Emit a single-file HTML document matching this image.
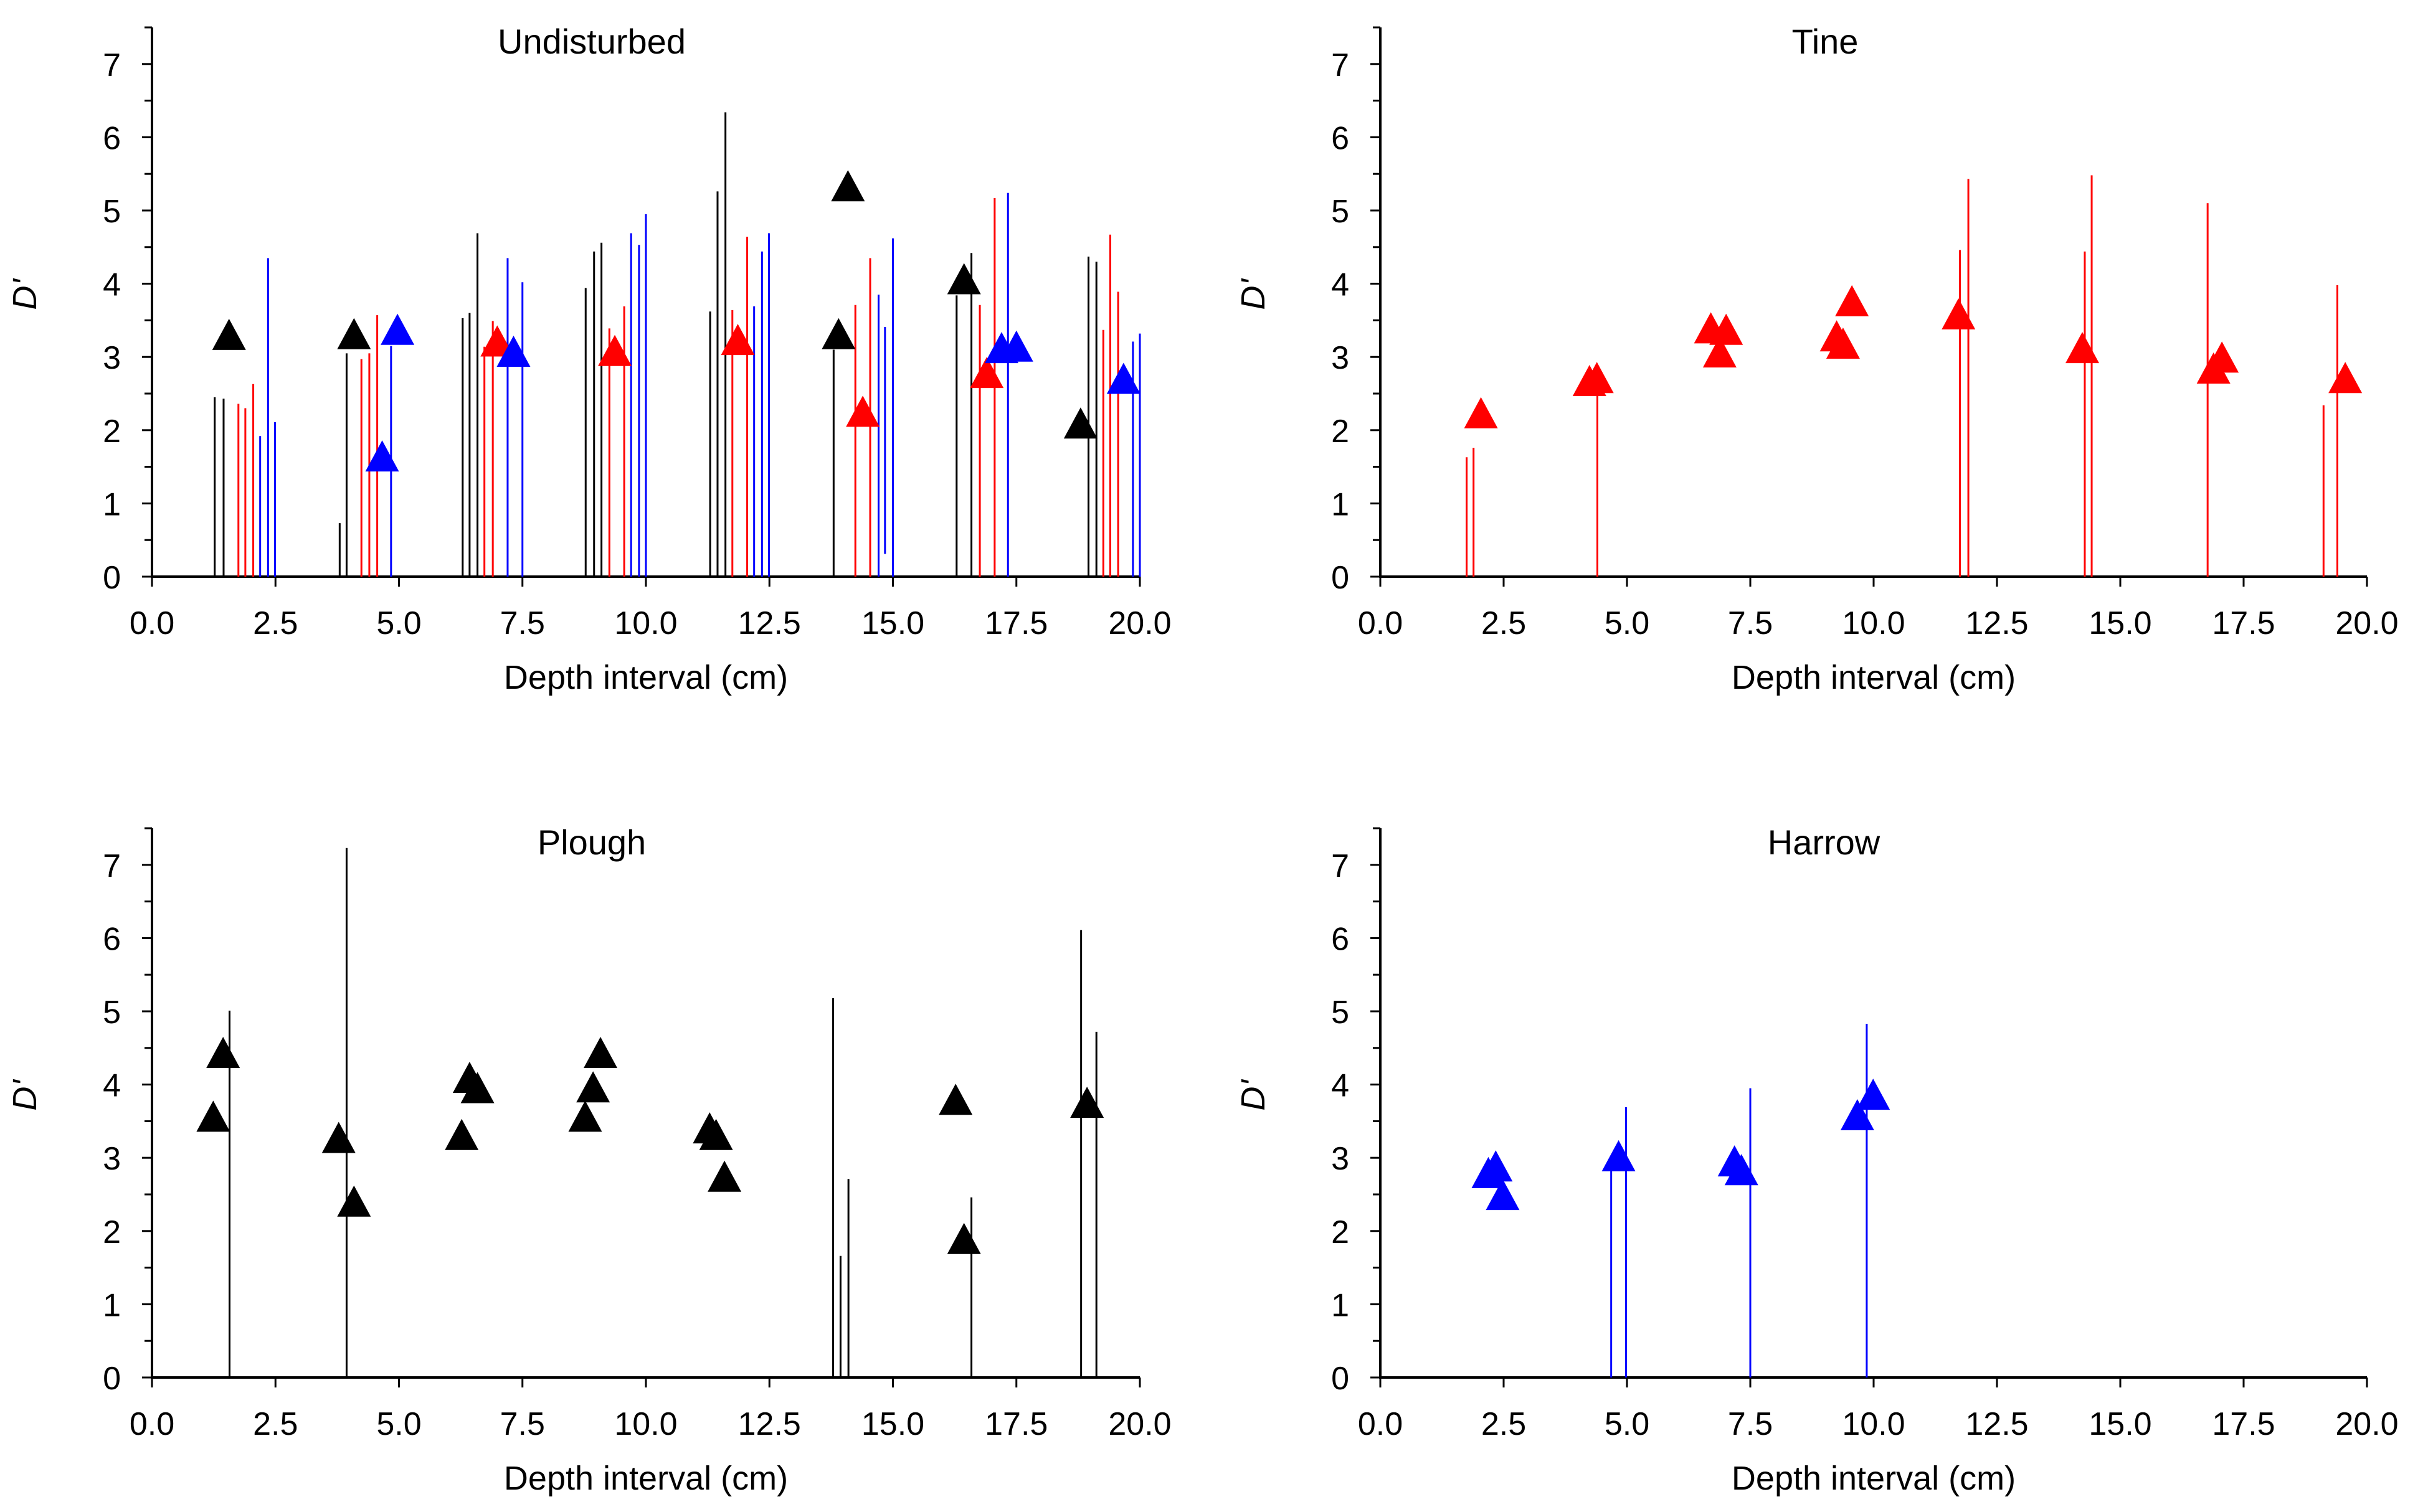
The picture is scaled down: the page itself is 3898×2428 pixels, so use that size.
<!DOCTYPE html>
<html><head><meta charset="utf-8"><style>
html,body{margin:0;padding:0;background:#fff}
svg{display:block}
text{font-family:"Liberation Sans",sans-serif;fill:#000}
</style></head><body>
<svg id="chart" width="3898" height="2428" viewBox="0 0 3898 2428" xmlns="http://www.w3.org/2000/svg"></svg>
<script>
// Panel titles
const panelTitles = ["Undisturbed", "Tine", "Plough", "Harrow"];
const xTicks = [0, 2.5, 5, 7.5, 10, 12.5, 15, 17.5, 20];
const xTickLabels = ["0.0","2.5","5.0","7.5","10.0","12.5","15.0","17.5","20.0"];
const yTicks = [0,1,2,3,4,5,6,7];
const yTickLabels = ["0","1","2","3","4","5","6","7"];

// Undisturbed: vertical lines
const undBlackLinesX = [1.27,1.45,3.80,3.94,6.29,6.43,6.59,8.78,8.95,9.10,11.30,11.45,11.61,13.80,16.29,16.59,18.96,19.12];
const undBlackLinesV = [2.45,2.43,0.73,3.05,3.53,3.60,4.69,3.94,4.44,4.56,3.62,5.26,6.34,3.10,3.84,4.42,4.37,4.30];
const undRedLinesX = [1.75,1.89,2.05,4.24,4.40,4.56,6.73,6.90,9.26,9.56,11.75,12.05,14.24,14.54,16.76,17.06,19.26,19.40,19.56];
const undRedLinesV = [2.36,2.30,2.63,2.97,3.05,3.57,3.14,3.49,3.39,3.69,3.64,4.64,3.71,4.35,3.71,5.17,3.37,4.67,3.89];
const undBlueLinesX = [2.19,2.35,2.49,4.84,7.20,7.50,9.70,9.86,10.0,12.19,12.35,12.49,14.71,14.84,15.0,17.33,19.86,20.0];
const undBlueLinesV = [1.92,4.35,2.11,3.15,4.35,4.02,4.69,4.53,4.95,3.69,4.44,4.69,3.85,3.41,4.62,5.24,3.21,3.32];
const undBlueLinesBase = [0,0,0,0,0,0,0,0,0,0,0,0,0,0.31,0,0,0,0];
// Undisturbed triangles
const undBlackTriX = [1.56,4.09,14.09,13.90,16.44,18.80];
const undBlackTriV = [3.30,3.31,5.33,3.31,4.06,2.09];
const undRedTriX = [6.99,9.37,11.86,14.39,16.90];
const undRedTriV = [3.21,3.08,3.23,2.25,2.78];
const undBlueTriX = [4.97,4.66,7.32,17.20,17.50,19.67];
const undBlueTriV = [3.37,1.64,3.07,3.12,3.14,2.70];

// Tine
const tineLinesX = [1.75,1.89,4.40,11.75,11.92,14.28,14.42,16.77,19.12,19.40];
const tineLinesV = [1.63,1.76,2.86,4.46,5.43,4.44,5.48,5.10,2.34,3.98];
const tineTriX = [2.04,4.24,4.39,6.70,7.01,6.88,9.25,9.38,9.56,11.72,14.23,16.89,17.06,19.56];
const tineTriV = [2.23,2.67,2.71,3.39,3.37,3.06,3.28,3.18,3.76,3.58,3.12,2.84,2.99,2.71];

// Plough
const ploughLinesX = [1.57,3.94,13.79,13.94,14.10,16.59,18.81,19.12];
const ploughLinesV = [5.01,7.23,5.18,1.66,2.71,2.46,6.11,4.72];
const ploughTriX = [1.44,1.24,3.78,4.09,6.43,6.59,6.27,9.08,8.93,8.77,11.29,11.42,11.59,16.27,16.44,18.93];
const ploughTriV = [4.43,3.56,3.27,2.40,4.09,3.95,3.31,4.43,3.96,3.56,3.40,3.31,2.74,3.79,1.89,3.75];

// Harrow
const harrowLinesX = [4.68,4.98,7.50,9.86];
const harrowLinesV = [2.90,3.69,3.95,4.83];
const harrowTriX = [2.19,2.34,2.48,4.83,7.18,7.32,9.67,9.99];
const harrowTriV = [2.79,2.88,2.49,3.02,2.95,2.83,3.58,3.86];

const NS = "http://www.w3.org/2000/svg";
const svg = document.getElementById("chart");
function mk(tag, attrs, parent){
  const e = document.createElementNS(NS, tag);
  for (const k in attrs) e.setAttribute(k, attrs[k]);
  (parent||svg).appendChild(e);
  return e;
}
const layouts = [
  {x0:244, x1:1830, y0:926, slug:"undisturbed", tx:950},
  {x0:2216, x1:3800, y0:926, slug:"tine", tx:2930},
  {x0:244, x1:1830, y0:2212, slug:"plough", tx:950},
  {x0:2216, x1:3800, y0:2212, slug:"harrow", tx:2928}
];
const YU = 117.6;
const BLACK="#000", RED="#ff0000", BLUE="#0000ff";

function drawPanel(i){
  const L = layouts[i];
  const g = mk("g", {});
  
  
  const sx = v => L.x0 + (L.x1 - L.x0) * v / 20;
  const sy = v => L.y0 - v * YU;
  L.sx = sx; L.sy = sy; L.g = g;
  const ya = mk("line", {x1:L.x0, y1:L.y0, x2:L.x0, y2:sy(7.5), stroke:BLACK, "stroke-width":4}, g);
  
  
  const xa = mk("line", {x1:L.x0-2, y1:L.y0, x2:L.x1, y2:L.y0, stroke:BLACK, "stroke-width":4}, g);
  
  
  for (let k=0;k<=15;k++){
    const v=k*0.5, len = (k%2===0)?16:12;
    mk("line",{x1:L.x0-len,y1:sy(v),x2:L.x0,y2:sy(v),stroke:BLACK,"stroke-width":3},g);
  }
  yTicks.forEach((v,j)=>{
    const t = mk("text",{x:L.x0-50,y:sy(v)+19,"text-anchor":"end","font-size":52},g);
    t.textContent = yTickLabels[j];
    
    
  });
  xTicks.forEach((v,j)=>{
    mk("line",{x1:sx(v),y1:L.y0,x2:sx(v),y2:L.y0+16,stroke:BLACK,"stroke-width":3},g);
    const t = mk("text",{x:sx(v),y:L.y0+92,"text-anchor":"middle","font-size":52},g);
    t.textContent = xTickLabels[j];
    
    
  });
  const xl = mk("text",{x:(L.x0+L.x1)/2,y:L.y0+180,"text-anchor":"middle","font-size":54},g);
  xl.textContent = "Depth interval (cm)";
  
  
  const yx = L.x0-186, yy = L.y0-453;
  const yl = mk("text",{x:yx,y:yy,"text-anchor":"middle","font-size":54,"font-style":"italic",transform:`rotate(-90 ${yx} ${yy})`},g);
  yl.textContent = "D'";
  
  
  const tt = mk("text",{x:L.tx,y:L.y0-840,"text-anchor":"middle","font-size":56},g);
  tt.textContent = panelTitles[i];
  
  
}
function lines(i, xs, vs, color, bases){
  const L = layouts[i];
  xs.forEach((x,j)=>{
    const b = bases ? bases[j] : 0;
    const l = mk("line",{x1:L.sx(x),x2:L.sx(x),y1:L.sy(b),y2:L.sy(vs[j]),stroke:color,"stroke-width":3},L.g);
    
    
  });
}
function tris(i, xs, vs, color){
  const L = layouts[i];
  xs.forEach((x,j)=>{
    const cx=L.sx(x), cy=L.sy(vs[j]);
    const p = mk("polygon",{points:`${cx},${cy-26} ${cx-27},${cy+24} ${cx+27},${cy+24}`,fill:color},L.g);
    
    
  });
}
for (let i=0;i<4;i++) drawPanel(i);
lines(0, undBlackLinesX, undBlackLinesV, BLACK);
lines(0, undRedLinesX, undRedLinesV, RED);
lines(0, undBlueLinesX, undBlueLinesV, BLUE, undBlueLinesBase);
tris(0, undBlackTriX, undBlackTriV, BLACK);
tris(0, undRedTriX, undRedTriV, RED);
tris(0, undBlueTriX, undBlueTriV, BLUE);
lines(1, tineLinesX, tineLinesV, RED);
tris(1, tineTriX, tineTriV, RED);
lines(2, ploughLinesX, ploughLinesV, BLACK);
tris(2, ploughTriX, ploughTriV, BLACK);
lines(3, harrowLinesX, harrowLinesV, BLUE);
tris(3, harrowTriX, harrowTriV, BLUE);
</script>
</body></html>
